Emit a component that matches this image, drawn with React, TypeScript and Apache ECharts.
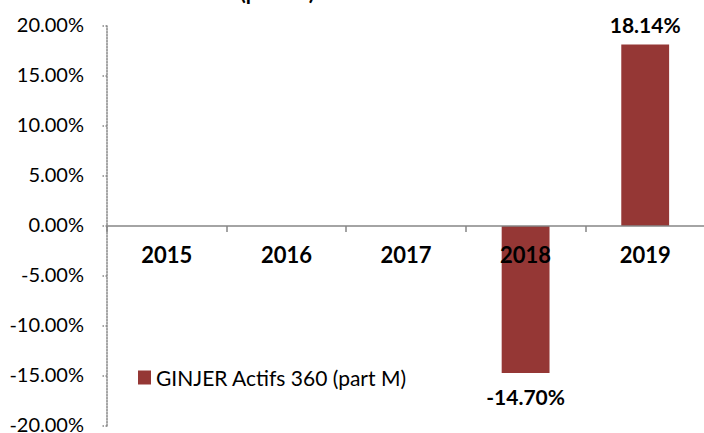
import React, { useEffect, useRef } from "react";
import * as echarts from "echarts";

const categories = ["2015", "2016", "2017", "2018", "2019"];
const values: (number | null)[] = [null, null, null, -14.7, 18.14];
const seriesName = "GINJER Actifs 360 (part M)";
const titleText = "(part M)";

export default function App() {
  const ref = useRef<HTMLDivElement>(null);
  useEffect(() => {
    const chart = echarts.init(ref.current!, null, { renderer: "svg" });
    const font = "Lato, 'Open Sans', sans-serif";
    const data = values.map((v) =>
      v == null
        ? null
        : { value: v, label: { distance: v < 0 ? 13 : 10 } }
    );
    chart.setOption({
      animation: false,
      textStyle: { fontFamily: font },
      title: {
        text: titleText,
        left: 235,
        top: -24,
        textStyle: { fontFamily: font, fontSize: 21, fontWeight: "bold", color: "#000" },
      },
      legend: {
        data: [seriesName],
        left: 133,
        top: 362,
        itemWidth: 13,
        itemHeight: 14,
        itemGap: 6,
        icon: "rect",
        textStyle: { fontFamily: font, fontSize: 21, color: "#000" },
      },
      grid: { left: 107, right: -1, top: 26, bottom: 7, containLabel: false, outerBoundsMode: "none" },
      xAxis: {
        type: "category",
        data: categories,
        z: 5,
        offset: -200,
        axisLine: { onZero: false, lineStyle: { color: "#868686", width: 1.5 } },
        axisTick: { show: true, length: 6, lineStyle: { color: "#868686", width: 1.5 } },
        axisLabel: { margin: 17, fontFamily: font, fontSize: 22, fontWeight: "bold", color: "#000" },
        splitLine: { show: false },
      },
      yAxis: {
        type: "value",
        min: -20,
        max: 20,
        interval: 5,
        axisLine: { show: true, lineStyle: { color: "#868686", type: "dotted", width: 1.5 } },
        axisTick: { show: true, length: 6, lineStyle: { color: "#868686", type: "dotted", width: 1.5 } },
        axisLabel: {
          margin: 23,
          fontFamily: font,
          fontSize: 20,
          color: "#000",
          formatter: (v: number) => "{a|" + v.toFixed(2) + "%}",
          rich: {
            a: { fontFamily: font, fontSize: 20, color: "#000", padding: [0, 0, 5, 0] },
          },
        },
        splitLine: { show: false },
      },
      series: [
        {
          name: seriesName,
          type: "bar",
          data,
          barWidth: "40%",
          itemStyle: { color: "#953735" },
          label: {
            show: true,
            position: "outside",
            fontFamily: font,
            fontSize: 21,
            fontWeight: "bold",
            color: "#000",
            formatter: (p: any) => (p.value == null ? "" : Number(p.value).toFixed(2) + "%"),
          },
        },
      ],
    });
    return () => chart.dispose();
  }, []);
  return (
    <div
      ref={ref}
      style={{ position: "fixed", left: 0, top: 0, width: 704, height: 433, background: "#fff" }}
    />
  );
}
